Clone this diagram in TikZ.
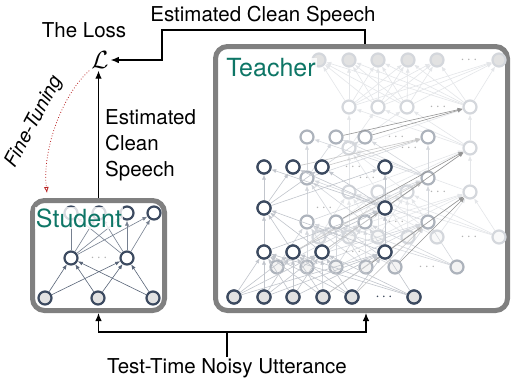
\documentclass[tikz,border=0pt]{standalone}
\usepackage{fontspec}
\setmainfont{TeX Gyre Heros}
\usetikzlibrary{arrows.meta}

\newlength{\du}
\setlength{\du}{1pt}

\definecolor{neuronline}{RGB}{60,74,96}
\definecolor{inputfill}{RGB}{226,226,226}
\definecolor{frameline}{RGB}{128,128,128}
\definecolor{titlegreen}{RGB}{14,118,102}
\definecolor{tuningred}{RGB}{185,35,35}

\tikzset{
  neuron/.style={circle,draw=neuronline,line width=2.2\du,minimum size=13\du,inner sep=0pt,fill=white},
  inneuron/.style={neuron,fill=inputfill},
  synapse/.style={line width=0.6\du,-{Latex[length=5pt,width=4pt]}},
  dotsnode/.style={inner sep=0pt,text=gray!60,font=\fontsize{14}{14}\selectfont},
  netframe/.style={draw=frameline,line width=5\du,rounded corners=12\du,fill=white},
  netlabel/.style={text=titlegreen,font=\fontsize{25}{28}\selectfont,fill=white,fill opacity=0.8,text opacity=1,inner sep=1\du},
  caption/.style={font=\fontsize{20.5}{26}\selectfont,inner sep=1\du},
  flow/.style={line width=1.1\du,-{Latex[length=8pt,width=6.5pt]}}
}

\begin{document}
\begin{tikzpicture}
\pgftransformxscale{1.000000}
\pgftransformyscale{-1.000000}
\useasboundingbox (0\du,0\du) rectangle (514\du,381\du);

% frames
\node[netframe,minimum width=132\du,minimum height=110\du] (student) at (98.5\du,255.5\du) {};
\node[netframe,minimum width=292\du,minimum height=264\du] (teacher) at (361.5\du,178.5\du) {};

% teacher: three stacked copies, back to front
\foreach \net/\dx/\dy/\tone/\etone in {c/85/-60/22/14, b/43/-30/42/22, a/0/0/100/32} {
  \pgfmathsetmacro{\yin}{297+\dy}
  \pgfmathsetmacro{\yha}{252+\dy}
  \pgfmathsetmacro{\yhb}{208+\dy}
  \pgfmathsetmacro{\yhc}{167+\dy}
  \foreach \x [count=\i, evaluate=\x as \xx using \x+\dx] in {234,264,293,323,352,414}
    \node[inneuron,draw=neuronline!\tone,fill=inputfill!\tone] (\net-in-\i) at (\xx\du,\yin\du) {};
  \pgfmathsetmacro{\xx}{384+\dx}
  \node[dotsnode] (\net-in-dots) at (\xx\du,\yin\du) {$\cdots$};
  \foreach \x [count=\i, evaluate=\x as \xx using \x+\dx] in {264,293,322,385} {
    \node[neuron,draw=neuronline!\tone] (\net-ha-\i) at (\xx\du,\yha\du) {};
    \node[neuron,draw=neuronline!\tone] (\net-hc-\i) at (\xx\du,\yhc\du) {};
  }
  \foreach \x [count=\i, evaluate=\x as \xx using \x+\dx] in {264,385}
    \node[neuron,draw=neuronline!\tone] (\net-hb-\i) at (\xx\du,\yhb\du) {};
  \pgfmathsetmacro{\xx}{353+\dx}
  \node[dotsnode] (\net-ha-dots) at (\xx\du,\yha\du) {$\cdots$};
  \node[dotsnode] (\net-hc-dots) at (\xx\du,\yhc\du) {$\cdots$};
  \pgfmathsetmacro{\xx}{324+\dx}
  \node[dotsnode] (\net-hb-dots) at (\xx\du,\yhb\du) {$\cdots$};
  \foreach \i in {1,...,6}
    \foreach \j in {1,...,4}
      \draw[synapse,draw=neuronline!\etone] (\net-in-\i) -- (\net-ha-\j);
  \foreach \i in {1,...,4}
    \foreach \j in {1,2} {
      \draw[synapse,draw=neuronline!\etone] (\net-ha-\i) -- (\net-hb-\j);
      \draw[synapse,draw=neuronline!\etone] (\net-hb-\j) -- (\net-hc-\i);
    }
}

% output layer of the back copy
\foreach \x [count=\i] in {319,349,378,408,437,499}
  \node[inneuron,draw=neuronline!22,fill=inputfill] (c-out-\i) at (\x\du,60\du) {};
\node[dotsnode] (c-out-dots) at (469\du,60\du) {$\cdots$};
\foreach \i in {1,...,4}
  \foreach \j in {1,...,6}
    \draw[synapse,draw=neuronline!14] (c-hc-\i) -- (c-out-\j);

% links between the copies
\foreach \src/\dst/\shade in {a/b/22, b/c/42} {
  \foreach \i in {4,5}
    \draw[synapse,draw=black!\shade] (\src-in-\i) -- (\dst-ha-4);
  \foreach \i in {2,3}
    \draw[synapse,draw=black!\shade] (\src-ha-\i) -- (\dst-hb-2);
  \foreach \i in {2,3}
    \draw[synapse,draw=black!\shade] (\src-hc-\i) -- (\dst-hc-4);
}

% redraw the front copy on top
\foreach \x in {234,264,293,323,352,414}
  \node[inneuron] at (\x\du,297\du) {};
\foreach \x in {264,293,322,385} {
  \node[neuron] at (\x\du,252\du) {};
  \node[neuron] at (\x\du,167\du) {};
}
\foreach \x in {264,385}
  \node[neuron] at (\x\du,208\du) {};
\node[dotsnode,text=neuronline] at (384\du,297\du) {$\cdots$};

% student
\foreach \x [count=\i] in {45,98,153}
  \node[inneuron] (s-in-\i) at (\x\du,298\du) {};
\foreach \x [count=\i] in {71,127}
  \node[neuron] (s-hid-\i) at (\x\du,258\du) {};
\node[dotsnode] (s-hid-dots) at (99\du,258\du) {$\cdots$};
\foreach \x [count=\i] in {71,99,127,154}
  \node[neuron] (s-out-\i) at (\x\du,213\du) {};
\foreach \i in {1,2,3}
  \foreach \j in {1,2}
    \draw[synapse,draw=neuronline!85] (s-in-\i) -- (s-hid-\j);
\foreach \i in {1,2}
  \foreach \j in {1,...,4}
    \draw[synapse,draw=neuronline!70] (s-hid-\i) -- (s-out-\j);

\node[netlabel] (studentlabel) at (79\du,218\du) {Student};
\node[netlabel] (teacherlabel) at (271\du,68\du) {Teacher};

% loss and captions
\node[inner sep=2\du] (loss) at (100\du,60\du) {\fontsize{24}{24}\selectfont$\mathcal{L}$};
\node[caption] (losslabel) at (84\du,30\du) {The Loss};
\node[caption] (topspeech) at (263\du,16\du) {Estimated Clean Speech};
\node[caption,anchor=west,align=left] (sidespeech) at (104\du,145\du) {Estimated\\Clean\\Speech};
\node[caption] (noisy) at (227\du,368\du) {Test-Time Noisy Utterance};
\node[caption,rotate=62,font=\fontsize{19.5}{22}\selectfont\itshape] (tuning) at (34\du,122\du) {Fine-Tuning};

% connectors
\coordinate (teacherout) at (365\du,30\du);
\coordinate (lossbend) at (162\du,30\du);
\coordinate (noisyjoin) at (227\du,332\du);
\coordinate (teacherin) at (366\du,332\du);
\coordinate (tunetip) at (47\du,193\du);
\draw[flow] (teacher.north -| teacherout) -- (teacherout) -- (lossbend) |- (loss.east);
\draw[flow] (student.north) -- (student.north |- loss.south);
\draw[line width=1.1\du] (noisy.north) -- (noisyjoin);
\draw[flow] (noisyjoin) -| (student.south);
\draw[flow] (noisyjoin) -- (teacherin) -- (teacherin |- teacher.south);
\draw[tuningred,dotted,line width=0.8\du,-{Latex[length=6pt,width=5pt,open]}] (loss.south west) .. controls (62\du,95\du) and (42\du,150\du) .. (tunetip);
\end{tikzpicture}
\end{document}
